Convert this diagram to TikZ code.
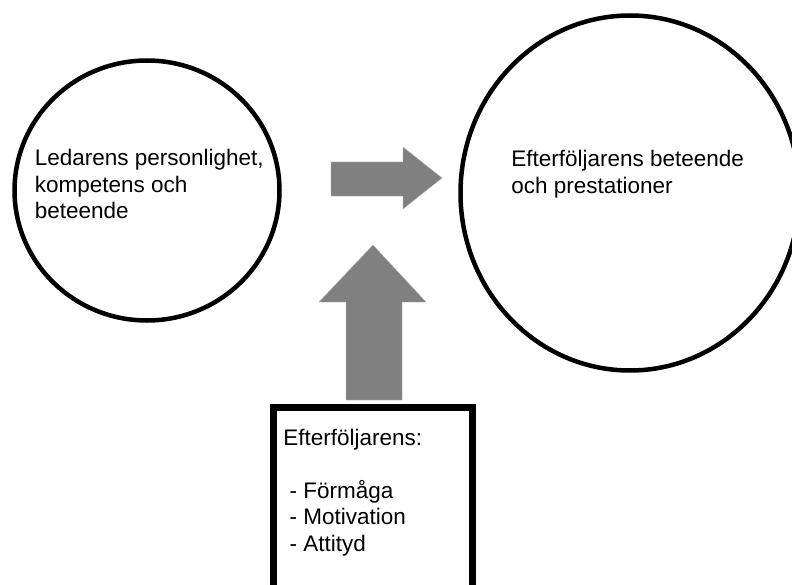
\documentclass[tikz,border=0pt]{standalone}
\usepackage{fontspec}
\setmainfont{Liberation Sans}
\usepackage{tikz}
\usetikzlibrary{positioning, shapes.geometric}
\usepackage{xcolor}
\definecolor{arrowcol}{HTML}{808080}
\definecolor{inkcol}{HTML}{000000}
\tikzset{
  % outlined ellipse = factor
  factor/.style={ellipse, draw=inkcol, line width=0.09cm,
                 inner sep=0pt},
  % thick frame = follower traits
  traitframe/.style={rectangle, draw=inkcol, line width=0.14cm,
                     inner sep=0pt},
  % left aligned text inside a shape
  factortext/.style={font=\fontsize{12.8pt}{15pt}\selectfont,
                     text=inkcol, align=left, inner sep=0pt,
                     anchor=north west},
  % grey block arrow
  blockarrow/.style={fill=arrowcol, draw=arrowcol!60, line width=0.2pt},
}

\begin{document}
\begin{tikzpicture}
  \useasboundingbox (0,0) rectangle (15.84,11.68);
  % the two factors (the right one runs off the edge)
  \node[factor, minimum width=5.30cm, minimum height=5.20cm]
    (leader) at (2.94,7.87) {};
  \node[factor, minimum width=6.78cm, minimum height=7.10cm]
    (follower) at (12.60,7.82) {};
  \node[factortext] (leadertext) at (0.69,8.70)
    {Ledarens personlighet,\\kompetens och\\beteende};
  \node[factortext] (followertext) at (10.22,8.68)
    {Efterföljarens beteende\\och prestationer};

  % traits box (runs off the bottom edge)
  \node[traitframe, minimum width=3.97cm, minimum height=4.2cm, anchor=north]
    (traits) at (7.455,3.61) {};
  \node[factortext] (traitstext) at (5.66,3.10)
    {Efterföljarens:\\[15pt]\ - Förmåga\\\ - Motivation\\\ - Attityd};

  % block arrows
  \draw[blockarrow] (6.62,8.44) -- (8.06,8.44) -- (8.06,8.74)
    -- (8.84,8.12) -- (8.06,7.50) -- (8.06,7.76) -- (6.62,7.76) -- cycle;
  \draw[blockarrow] (6.92,3.68) -- (6.92,5.64) -- (6.38,5.64)
    -- (7.46,6.78) -- (8.52,5.64) -- (8.04,5.64) -- (8.04,3.68) -- cycle;
\end{tikzpicture}
\end{document}
